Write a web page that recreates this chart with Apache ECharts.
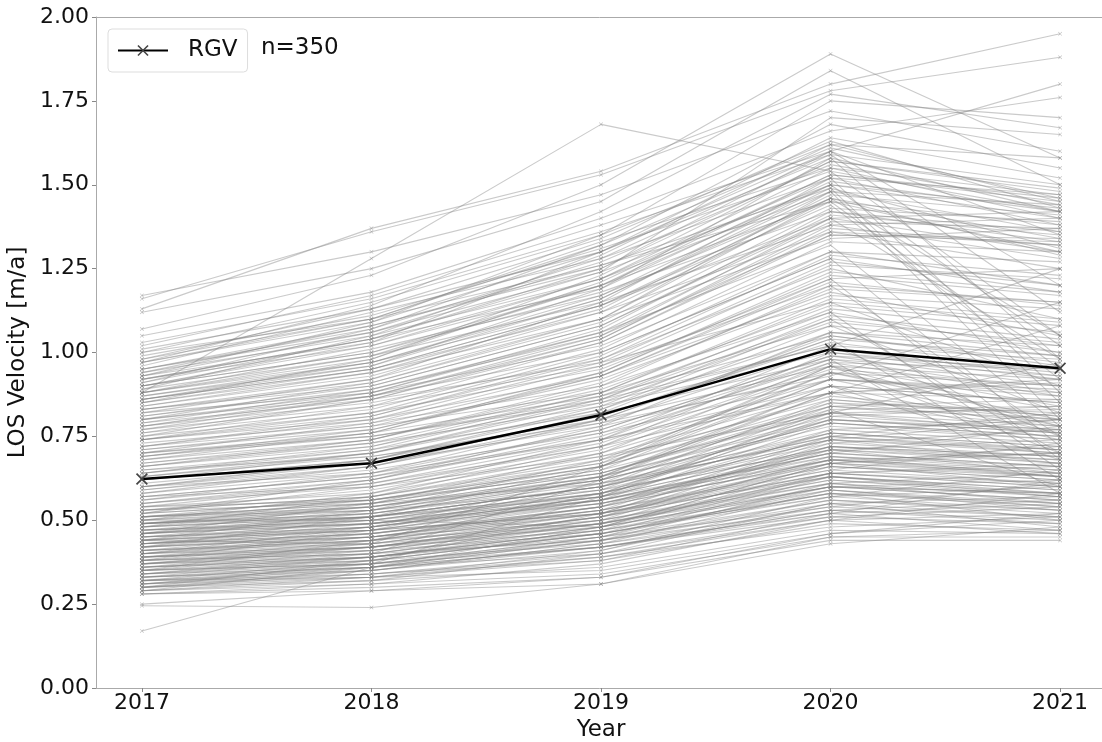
<!DOCTYPE html>
<html>
<head>
<meta charset="utf-8">
<script src="https://cdn.jsdelivr.net/npm/echarts@6/dist/echarts.min.js"></script>
<style>
html,body{margin:0;padding:0;background:#fff;}
#chart{width:1102px;height:742px;}
</style>
</head>
<body>
<div id="chart"></div>
<script>
const years = [2017, 2018, 2019, 2020, 2021];
const yTicks = [0, 0.25, 0.5, 0.75, 1.0, 1.25, 1.5, 1.75, 2.0];
const rgv = [0.623, 0.670, 0.814, 1.010, 0.953];
const countLabel = 'n=350';

const highGroup = [
[1.13,1.37,1.54,1.80,1.95],[1.16,1.36,1.53,1.78,1.88],[1.17,1.30,1.47,1.72,1.60],[1.12,1.25,1.45,1.84,1.50],
[1.07,1.23,1.50,1.89,1.58],[1.05,1.18,1.40,1.66,1.76],[1.02,1.17,1.38,1.60,1.80],[1.00,1.15,1.35,1.62,1.45],
[0.98,1.13,1.30,1.58,1.42],[0.97,1.10,1.33,1.55,1.40],[0.96,1.12,1.28,1.52,1.38],[0.95,1.08,1.25,1.60,1.35],
[0.94,1.05,1.22,1.48,1.36],[0.93,1.06,1.27,1.56,1.44],[0.92,1.02,1.20,1.45,1.30],[0.91,1.04,1.24,1.50,1.40],
[0.90,1.00,1.18,1.42,1.33],[0.90,1.03,1.30,1.64,1.52],[0.89,0.99,1.15,1.38,1.28],[0.88,0.98,1.21,1.53,1.46],
[0.88,1.01,1.17,1.46,1.34],[0.87,0.97,1.14,1.40,1.30],[0.86,0.96,1.19,1.51,1.42],[0.86,0.95,1.12,1.36,1.25],
[0.85,0.98,1.23,1.57,1.48],[0.85,0.94,1.10,1.34,1.37],[1.00,1.10,1.26,1.45,0.95],[0.95,1.06,1.24,1.70,1.65],
[0.93,1.09,1.35,1.75,1.70],[0.97,1.14,1.42,1.77,1.67],[0.91,1.07,1.32,1.68,1.55],[0.89,1.05,1.29,1.62,1.58],
[1.03,1.16,1.36,1.59,1.12],[0.99,1.11,1.31,1.54,1.05],[0.94,1.08,1.26,1.49,0.85],[0.92,1.04,1.19,1.58,0.98],
[0.88,1.28,1.68,1.54,1.42],
[0.84,0.94,1.13,1.47,1.41],[0.86,0.97,1.17,1.50,1.43],[0.88,0.99,1.20,1.53,1.45],[0.83,0.91,1.09,1.43,1.39],
[0.81,0.90,1.08,1.41,1.35],[0.79,0.89,1.06,1.39,1.37],[0.90,1.02,1.22,1.55,1.47],[0.92,1.04,1.25,1.57,1.49],
[0.95,1.07,1.28,1.59,1.50],[0.77,0.87,1.04,1.37,1.32],[0.75,0.86,1.03,1.35,1.34],[0.98,1.10,1.32,1.61,1.46],
[1.01,1.13,1.34,1.63,1.43],[0.87,0.96,1.16,1.49,1.31],[0.85,0.95,1.14,1.46,1.29]
];

const midGroup = [
[0.84,0.93,1.12,1.45,1.38],[0.83,0.90,1.08,1.40,1.42],[0.82,0.92,1.15,1.52,1.47],[0.82,0.88,1.02,1.30,1.20],
[0.81,0.89,1.05,1.35,1.33],[0.80,0.87,1.00,1.28,1.18],[0.80,0.91,1.10,1.48,1.44],[0.79,0.86,1.04,1.38,1.40],
[0.78,0.85,0.98,1.25,1.10],[0.78,0.88,1.07,1.42,1.36],[0.77,0.84,0.96,1.20,1.15],[0.76,0.83,1.01,1.33,1.30],
[0.76,0.86,0.97,1.15,0.90],[0.75,0.82,0.95,1.22,1.25],[0.74,0.80,0.93,1.18,1.05],[0.74,0.84,1.03,1.36,1.32],
[0.73,0.79,0.90,1.12,1.00],[0.72,0.81,0.99,1.30,1.27],[0.72,0.78,0.88,1.08,0.82],[0.71,0.77,0.92,1.17,1.13],
[0.70,0.76,0.87,1.05,0.97],[0.70,0.79,0.96,1.26,1.22],[0.69,0.75,0.85,1.02,0.75],[0.68,0.74,0.89,1.14,1.08],
[0.68,0.76,0.94,1.24,1.18],[0.67,0.73,0.84,1.00,0.92],[0.66,0.72,0.86,1.10,1.02],[0.66,0.74,0.91,1.19,1.15],
[0.65,0.71,0.82,0.98,0.88],[0.64,0.70,0.83,1.06,0.99],[0.64,0.72,0.88,1.16,1.10],[0.63,0.69,0.80,0.96,0.84],
[0.62,0.68,0.81,1.03,0.95],[0.62,0.70,0.86,1.13,1.06],[0.61,0.67,0.78,0.94,0.80],[0.60,0.66,0.79,1.01,0.93],
[0.60,0.68,0.84,1.11,1.04],[0.59,0.65,0.76,0.92,0.78],[0.58,0.64,0.77,0.99,0.90],[0.58,0.66,0.82,1.08,1.00],
[0.57,0.63,0.74,0.90,0.76],[0.56,0.62,0.75,0.97,0.87],[0.56,0.64,0.80,1.05,0.96],[0.55,0.61,0.72,0.88,0.74],
[0.72,0.80,0.97,1.27,1.20],[0.69,0.77,0.93,1.21,1.14],[0.66,0.73,0.88,1.15,1.09],[0.63,0.70,0.85,1.09,1.03],
[0.60,0.67,0.81,1.04,0.99],[0.57,0.63,0.77,0.99,0.95],[0.74,0.81,0.98,1.29,1.23],[0.71,0.78,0.94,1.23,1.17]
];

const lowGroup = [
[0.55,0.60,0.72,0.95,0.90],[0.54,0.58,0.70,0.90,0.85],[0.54,0.61,0.74,0.98,0.93],[0.53,0.57,0.68,0.86,0.80],
[0.53,0.59,0.71,0.92,0.88],[0.52,0.56,0.66,0.84,0.78],[0.52,0.60,0.73,0.96,0.70],[0.51,0.55,0.65,0.82,0.83],
[0.51,0.57,0.69,0.88,0.86],[0.50,0.54,0.63,0.80,0.76],[0.50,0.56,0.67,0.87,0.81],[0.49,0.53,0.62,0.78,0.74],
[0.49,0.55,0.66,0.85,0.79],[0.48,0.52,0.61,0.76,0.72],[0.48,0.54,0.64,0.83,0.84],[0.47,0.51,0.60,0.75,0.70],
[0.47,0.53,0.63,0.81,0.77],[0.46,0.50,0.58,0.73,0.69],[0.46,0.52,0.62,0.79,0.75],[0.45,0.49,0.57,0.72,0.68],
[0.45,0.51,0.60,0.77,0.73],[0.44,0.48,0.56,0.70,0.66],[0.44,0.50,0.59,0.76,0.71],[0.43,0.47,0.55,0.69,0.65],
[0.43,0.49,0.58,0.74,0.70],[0.42,0.46,0.54,0.68,0.64],[0.42,0.48,0.57,0.72,0.67],[0.41,0.45,0.53,0.66,0.62],
[0.41,0.47,0.56,0.71,0.68],[0.40,0.44,0.52,0.65,0.61],[0.40,0.46,0.55,0.70,0.66],[0.39,0.43,0.51,0.64,0.60],
[0.39,0.45,0.54,0.68,0.63],[0.38,0.42,0.50,0.62,0.58],[0.38,0.44,0.53,0.67,0.64],[0.37,0.41,0.49,0.61,0.57],
[0.37,0.43,0.52,0.66,0.62],[0.36,0.40,0.48,0.60,0.56],[0.36,0.42,0.51,0.64,0.60],[0.35,0.39,0.47,0.58,0.55],
[0.35,0.41,0.50,0.63,0.58],[0.34,0.38,0.46,0.57,0.53],[0.34,0.40,0.49,0.62,0.57],[0.33,0.37,0.45,0.56,0.52],
[0.33,0.39,0.47,0.60,0.56],[0.32,0.36,0.44,0.55,0.51],[0.32,0.38,0.46,0.58,0.54],[0.31,0.35,0.42,0.53,0.50],
[0.31,0.37,0.44,0.56,0.53],[0.30,0.34,0.40,0.51,0.49],[0.30,0.35,0.43,0.54,0.51],[0.29,0.33,0.38,0.49,0.47],
[0.29,0.32,0.36,0.47,0.46],[0.28,0.31,0.34,0.45,0.45],[0.28,0.30,0.33,0.44,0.44],[0.29,0.36,0.48,0.67,0.72],
[0.30,0.38,0.52,0.74,0.80],[0.31,0.34,0.38,0.52,0.62],[0.33,0.35,0.41,0.55,0.48],[0.35,0.44,0.58,0.80,0.77],
[0.36,0.38,0.43,0.52,0.47],[0.38,0.47,0.61,0.85,0.82],[0.39,0.41,0.46,0.58,0.50],[0.40,0.48,0.63,0.88,0.92],
[0.41,0.43,0.48,0.59,0.53],[0.42,0.51,0.66,0.92,0.87],[0.43,0.45,0.50,0.61,0.55],[0.44,0.53,0.68,0.94,0.90],
[0.45,0.47,0.52,0.63,0.57],[0.46,0.55,0.70,0.97,0.95],[0.47,0.49,0.55,0.67,0.60],[0.48,0.57,0.72,1.00,0.94],
[0.49,0.51,0.57,0.69,0.63],[0.50,0.58,0.74,1.02,0.98],[0.51,0.53,0.59,0.71,0.64],[0.52,0.62,0.78,1.06,1.02],
[0.53,0.55,0.61,0.74,0.67],[0.28,0.29,0.31,0.43,0.48],[0.32,0.33,0.35,0.46,0.52],[0.34,0.36,0.40,0.50,0.58],
[0.37,0.39,0.45,0.54,0.61],[0.40,0.42,0.47,0.57,0.65],[0.43,0.46,0.53,0.65,0.73],[0.46,0.49,0.56,0.70,0.78],
[0.49,0.52,0.60,0.75,0.82],[0.30,0.33,0.39,0.50,0.46],[0.33,0.36,0.42,0.53,0.49],[0.36,0.39,0.46,0.59,0.54],
[0.39,0.42,0.49,0.63,0.59],[0.42,0.45,0.52,0.67,0.63],[0.45,0.48,0.55,0.71,0.67],[0.48,0.51,0.58,0.74,0.71],
[0.51,0.54,0.62,0.79,0.74],[0.54,0.56,0.64,0.82,0.76],[0.245,0.24,0.31,0.45,0.47],[0.25,0.29,0.33,0.46,0.50],
[0.17,0.36,0.42,0.52,0.55],[0.38,0.40,0.62,0.90,0.68],[0.44,0.43,0.66,0.96,0.78],[0.50,0.50,0.48,0.60,0.58],
[0.35,0.37,0.57,0.83,0.60],
[0.29,0.31,0.37,0.50,0.52],[0.30,0.32,0.40,0.55,0.57],[0.31,0.33,0.41,0.57,0.60],[0.32,0.35,0.43,0.59,0.55],
[0.33,0.36,0.44,0.61,0.64],[0.34,0.37,0.45,0.63,0.59],[0.35,0.38,0.46,0.64,0.67],[0.36,0.39,0.47,0.66,0.63],
[0.37,0.40,0.48,0.67,0.70],[0.38,0.41,0.49,0.69,0.66],[0.39,0.42,0.50,0.71,0.74],[0.40,0.43,0.51,0.72,0.69],
[0.41,0.44,0.52,0.73,0.77],[0.42,0.45,0.53,0.75,0.71],[0.43,0.46,0.54,0.77,0.80],[0.44,0.47,0.56,0.79,0.75],
[0.45,0.48,0.57,0.81,0.84],[0.46,0.49,0.58,0.82,0.78],[0.47,0.50,0.59,0.84,0.86],[0.48,0.51,0.60,0.86,0.81],
[0.49,0.52,0.62,0.88,0.91],[0.50,0.53,0.63,0.90,0.85],[0.51,0.55,0.65,0.92,0.89],[0.52,0.56,0.66,0.94,0.83],
[0.53,0.57,0.67,0.96,0.92],[0.31,0.36,0.45,0.60,0.58],[0.34,0.39,0.48,0.64,0.61],[0.37,0.42,0.51,0.68,0.65],
[0.40,0.45,0.54,0.72,0.69],[0.43,0.48,0.57,0.76,0.72],[0.46,0.51,0.60,0.80,0.76],[0.49,0.54,0.64,0.84,0.80],
[0.32,0.34,0.39,0.48,0.51],[0.35,0.37,0.42,0.51,0.54],[0.38,0.40,0.44,0.53,0.56],[0.41,0.44,0.49,0.60,0.62],
[0.44,0.47,0.52,0.64,0.66],[0.47,0.50,0.56,0.68,0.70]
];

const crossGroup = [
[0.80,0.88,1.06,1.32,0.78],[0.74,0.82,1.00,1.28,0.72],[0.69,0.76,0.93,1.22,0.68],[0.86,0.95,1.14,1.44,0.92],
[0.64,0.71,0.87,1.12,0.65],[0.90,1.00,1.20,1.50,1.02],[0.59,0.66,0.80,1.04,0.62],[0.97,1.09,1.30,1.60,1.20],
[0.55,0.62,0.76,0.98,0.58],[0.60,0.64,0.74,0.88,1.08],[0.65,0.69,0.79,0.93,1.15],[0.70,0.75,0.86,1.02,1.25],
[0.57,0.60,0.69,0.82,0.97],
[0.83,0.92,1.10,1.46,1.05],[0.78,0.87,1.05,1.40,0.98],[0.93,1.03,1.22,1.52,0.88],[0.88,0.97,1.16,1.48,0.80],
[0.67,0.74,0.90,1.20,0.75],[0.62,0.68,0.83,1.10,0.70]
];

const grayLines = [].concat(lowGroup, midGroup, highGroup, crossGroup);

const xSym = 'path://M0,1 L1,0 L10,9 L9,10 Z M9,0 L10,1 L1,10 L0,9 Z';
const toPts = arr => years.map((y, i) => [y, arr[i]]);

const series = grayLines.map((vals, k) => ({
  type: 'line',
  name: 'site' + k,
  data: toPts(vals),
  symbol: xSym,
  symbolSize: 4,
  showSymbol: true,
  silent: true,
  lineStyle: {color: 'rgba(128,128,128,0.42)', width: 1.1},
  itemStyle: {color: 'rgba(128,128,128,0.5)'},
  z: 2
}));
series.push({
  type: 'line',
  name: 'RGV',
  data: toPts(rgv),
  symbol: xSym,
  symbolSize: 12,
  showSymbol: true,
  lineStyle: {color: '#000', width: 2.5},
  itemStyle: {color: '#444'},
  z: 10
});

const font = 'DejaVu Sans';
const chart = echarts.init(document.getElementById('chart'), null, {renderer: 'canvas'});
chart.setOption({
  animation: false,
  backgroundColor: '#fff',
  grid: {left: 96, top: 17, width: 1010, height: 671, outerBoundsMode: 'none', containLabel: false},
  legend: {
    data: ['RGV'],
    left: 108, top: 29,
    padding: [10, 10, 10, 9],
    backgroundColor: '#fff',
    borderColor: '#dddddd', borderWidth: 1, borderRadius: 4,
    itemWidth: 50, itemHeight: 14,
    selectedMode: false,
    textStyle: {fontFamily: font, fontSize: 23, color: '#111', padding: [0, 0, 0, 15]}
  },
  graphic: [{
    type: 'text', left: 261, top: 37,
    style: {text: countLabel, font: '23px "DejaVu Sans"', fill: '#111'}
  }],
  xAxis: [{
    type: 'value', min: 2016.8, max: 2021.2,
    name: 'Year', nameLocation: 'middle', nameGap: 26,
    nameTextStyle: {fontFamily: font, fontSize: 23, color: '#111'},
    axisLine: {show: true, onZero: false, lineStyle: {color: '#aaaaaa', width: 1}},
    axisTick: {show: true, length: 4, lineStyle: {color: '#888'}, customValues: years},
    axisLabel: {fontFamily: font, fontSize: 22, color: '#111', margin: 4, customValues: years, formatter: v => String(v)},
    splitLine: {show: false}
  }, {
    type: 'value', position: 'top', min: 2016.8, max: 2021.2,
    axisLine: {show: true, onZero: false, lineStyle: {color: '#aaaaaa', width: 1}},
    axisTick: {show: false}, axisLabel: {show: false}, splitLine: {show: false}
  }],
  yAxis: {
    type: 'value', min: 0, max: 2, interval: 0.25,
    name: 'LOS Velocity [m/a]', nameLocation: 'middle', nameGap: 54,
    nameTextStyle: {fontFamily: font, fontSize: 23, color: '#111'},
    axisLine: {show: true, lineStyle: {color: '#aaaaaa', width: 1}},
    axisTick: {show: true, length: 4, lineStyle: {color: '#888'}},
    axisLabel: {fontFamily: font, fontSize: 22, color: '#111', margin: 7, formatter: v => v.toFixed(2), customValues: yTicks},
    splitLine: {show: false}
  },
  series: series
});
</script>
</body>
</html>
